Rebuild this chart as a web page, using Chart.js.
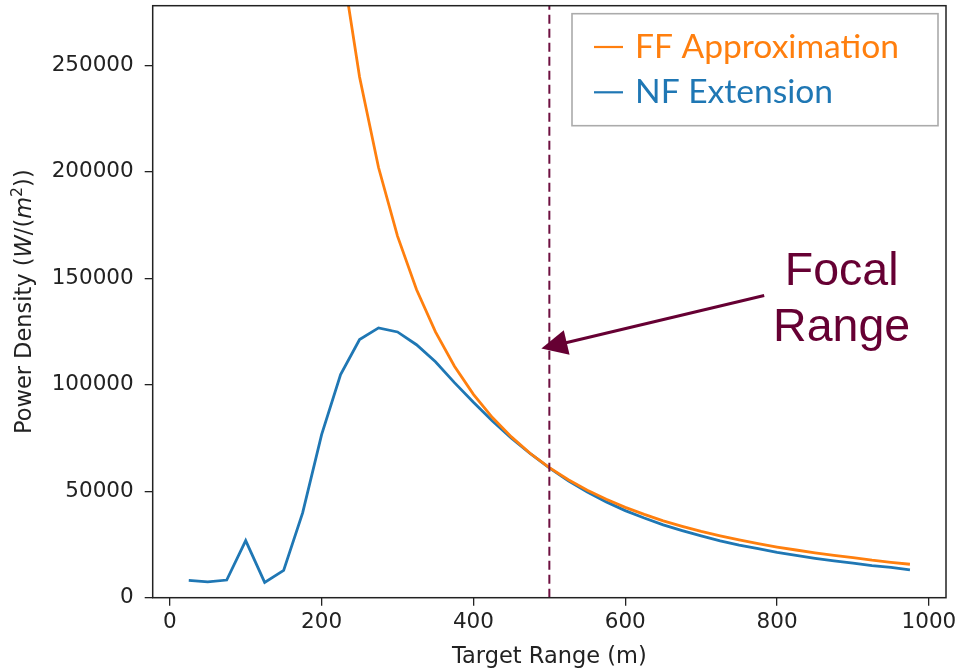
<!DOCTYPE html>
<html><head><meta charset="utf-8">
<script src="https://cdn.jsdelivr.net/npm/chart.js@4/dist/chart.umd.min.js"></script>
<style>html,body{margin:0;padding:0;background:#fff}#wrap{width:955px;height:669px}</style>
</head><body><div id="wrap"><canvas id="c" width="955" height="669"></canvas></div>
<script>
// ---- data ----
const targetRange = [25,50,75,100,125,150,175,200,225,250,275,300,325,350,375,400,425,450,475,500,
  525,550,575,600,625,650,675,700,725,750,775,800,825,850,875,900,925,950,975];
const ffApprox = [24480000,6120000,2720000,1530000,979000,680000,500000,382000,302000,244500,202000,169800,
  144700,124800,108700,95500,84600,75500,67700,61100,55400,50500,46200,42400,39100,36100,33500,31100,29000,
  27100,25400,23800,22400,21100,19900,18800,17600,16600,15700];
const nfExtension = [8100,7400,8300,26800,7200,12800,39800,76600,104800,121200,126700,124800,118800,110800,
  101000,91800,83000,74900,67600,61000,54900,49600,45000,40900,37400,34200,31500,29000,26700,24700,23000,
  21300,19900,18500,17300,16200,15100,14200,13100];
const seriesLabels = ['FF Approximation','NF Extension'];
const xTicks = [0,200,400,600,800,1000];
const yTicks = [0,50000,100000,150000,200000,250000];
const xLimits = [-22.5,1022.5];
const yLimits = [0,278000];
const focalRange = 500;
const annotationText = ['Focal','Range'];
const annotationTextAt = [[885,146950],[885,120630]];
const arrowFrom = [783,141900];
const arrowTo = [489.5,117000];
const xTitle = 'Target Range (m)';

const C_FF = '#ff7f0e', C_NF = '#1f77b4', C_MAROON = '#660033';
const TITLE_PX = 22.5, TICK_PX = 21.5;

const overlay = {
  id:'overlay',
  afterDatasetsDraw(chart){
    const {ctx, chartArea:a, scales:{x,y}} = chart;
    ctx.save();
    // focal range dashed line
    const fx = x.getPixelForValue(focalRange);
    ctx.strokeStyle = '#6e1040'; ctx.lineWidth = 2; ctx.setLineDash([9,5]);
    ctx.beginPath(); ctx.moveTo(fx, a.bottom); ctx.lineTo(fx, a.top); ctx.stroke();
    ctx.setLineDash([]);
    // arrow
    const sx = x.getPixelForValue(arrowFrom[0]), sy = y.getPixelForValue(arrowFrom[1]);
    const tx = x.getPixelForValue(arrowTo[0]), ty = y.getPixelForValue(arrowTo[1]);
    const ang = Math.atan2(ty-sy, tx-sx), hl = 26, hw = 12.5;
    const bx = tx - hl*Math.cos(ang), by = ty - hl*Math.sin(ang);
    ctx.strokeStyle = C_MAROON; ctx.fillStyle = C_MAROON; ctx.lineWidth = 3;
    ctx.beginPath(); ctx.moveTo(sx, sy); ctx.lineTo(bx + 4*Math.cos(ang), by + 4*Math.sin(ang)); ctx.stroke();
    ctx.beginPath(); ctx.moveTo(tx, ty);
    ctx.lineTo(bx - hw*Math.sin(ang), by + hw*Math.cos(ang));
    ctx.lineTo(bx + hw*Math.sin(ang), by - hw*Math.cos(ang));
    ctx.closePath(); ctx.fill();
    // annotation text
    ctx.font = '46.5px "Liberation Sans", Arial, sans-serif';
    ctx.textAlign = 'center'; ctx.textBaseline = 'alphabetic';
    annotationText.forEach((t,i)=>{
      ctx.fillText(t, x.getPixelForValue(annotationTextAt[i][0]), y.getPixelForValue(annotationTextAt[i][1]));
    });
    // spines
    ctx.strokeStyle = '#222'; ctx.lineWidth = 1.5;
    ctx.strokeRect(a.left, a.top, a.right-a.left, a.bottom-a.top);
    // legend
    const bw = 366, bh = 112, bl = a.right - 8 - bw, bt = a.top + 8;
    ctx.fillStyle = '#fff'; ctx.fillRect(bl, bt, bw, bh);
    ctx.strokeStyle = '#ababab'; ctx.lineWidth = 1.6; ctx.strokeRect(bl, bt, bw, bh);
    let fs = 30;
    ctx.font = fs + 'px Lato, sans-serif';
    fs = fs * 264 / ctx.measureText(seriesLabels[0]).width;
    ctx.font = fs.toFixed(2) + 'px Lato, sans-serif';
    ctx.textAlign = 'left';
    const cols = [C_FF, C_NF];
    seriesLabels.forEach((lab,i)=>{
      const ly = bt + 33.3 + i*45.3;
      ctx.strokeStyle = cols[i]; ctx.lineWidth = 2.2;
      ctx.beginPath(); ctx.moveTo(bl+22, ly); ctx.lineTo(bl+51, ly); ctx.stroke();
      ctx.fillStyle = cols[i];
      ctx.fillText(lab, bl+63, ly + 10.7);
    });
    ctx.restore();
  },
  afterDraw(chart){
    const {ctx, chartArea:a} = chart;
    ctx.save();
    ctx.fillStyle = '#222';
    // x title
    ctx.font = TITLE_PX + 'px "DejaVu Sans"';
    ctx.textAlign = 'center'; ctx.textBaseline = 'alphabetic';
    ctx.fillText(xTitle, (a.left+a.right)/2, 663);
    // y title with mathtext-like parts
    const segs = [
      {t:'Power Density (', f:TITLE_PX + 'px "DejaVu Sans"', dy:0},
      {t:'W', f:'italic ' + TITLE_PX + 'px "DejaVu Sans"', dy:0},
      {t:'/(', f:TITLE_PX + 'px "DejaVu Sans"', dy:0},
      {t:'m', f:'italic ' + TITLE_PX + 'px "DejaVu Sans"', dy:0},
      {t:'2', f:(TITLE_PX*0.7).toFixed(1) + 'px "DejaVu Sans"', dy:-9},
      {t:'))', f:TITLE_PX + 'px "DejaVu Sans"', dy:0}
    ];
    let w = 0;
    segs.forEach(s=>{ ctx.font = s.f; s.w = ctx.measureText(s.t).width; w += s.w; });
    ctx.translate(30.5, (a.top+a.bottom)/2);
    ctx.rotate(-Math.PI/2);
    ctx.textAlign = 'left';
    let cx = -w/2;
    segs.forEach(s=>{ ctx.font = s.f; ctx.fillText(s.t, cx, s.dy); cx += s.w; });
    ctx.restore();
  }
};

new Chart(document.getElementById('c').getContext('2d'), {
  type:'line',
  data:{datasets:[
    {label:seriesLabels[0], data:targetRange.map((r,i)=>({x:r, y:ffApprox[i]})), borderColor:C_FF,
     borderWidth:2.8, pointRadius:0, fill:false, tension:0},
    {label:seriesLabels[1], data:targetRange.map((r,i)=>({x:r, y:nfExtension[i]})), borderColor:C_NF,
     borderWidth:2.8, pointRadius:0, fill:false, tension:0}
  ]},
  options:{
    responsive:false, animation:false, events:[],
    layout:{padding:{top:5.7, right:9, left:0, bottom:0}},
    plugins:{legend:{display:false}, tooltip:{enabled:false}},
    scales:{
      x:{type:'linear', min:xLimits[0], max:xLimits[1],
         afterBuildTicks:s=>{ s.ticks = xTicks.map(v=>({value:v})); },
         afterFit:s=>{ s.height = 669-597.7; s.paddingLeft = 0; s.paddingRight = 0; },
         grid:{drawOnChartArea:false, drawTicks:true, tickLength:8, color:'#222', lineWidth:1.3},
         border:{display:false},
         ticks:{font:{family:'DejaVu Sans', size:TICK_PX}, color:'#222', padding:4, maxRotation:0, autoSkip:false,
                callback:v=>String(v)}},
      y:{type:'linear', min:yLimits[0], max:yLimits[1],
         afterBuildTicks:s=>{ s.ticks = yTicks.map(v=>({value:v})); },
         afterFit:s=>{ s.width = 152.7; s.paddingTop = 0; s.paddingBottom = 0; },
         grid:{drawOnChartArea:false, drawTicks:true, tickLength:8, color:'#222', lineWidth:1.3},
         border:{display:false},
         ticks:{font:{family:'DejaVu Sans', size:TICK_PX}, color:'#222', padding:11, autoSkip:false,
                callback:v=>String(v)}}
    }
  },
  plugins:[overlay]
});
</script></body></html>
